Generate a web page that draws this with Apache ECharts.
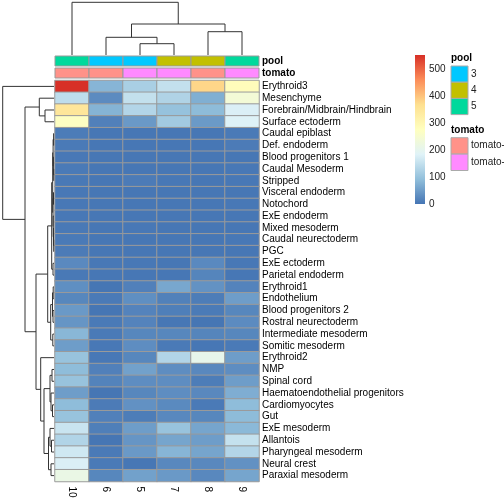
<!DOCTYPE html>
<html><head><meta charset="utf-8">
<script src="https://cdn.jsdelivr.net/npm/echarts@6/dist/echarts.min.js"></script>
<style>html,body{margin:0;padding:0;background:#fff}#c{width:504px;height:504px}</style>
</head><body><div id="c"></div>
<script>
const columns = ['10','6','5','7','8','9'];
const cellTypes = ['Erythroid3','Mesenchyme','Forebrain/Midbrain/Hindbrain','Surface ectoderm','Caudal epiblast','Def. endoderm','Blood progenitors 1','Caudal Mesoderm','Stripped','Visceral endoderm','Notochord','ExE endoderm','Mixed mesoderm','Caudal neurectoderm','PGC','ExE ectoderm','Parietal endoderm','Erythroid1','Endothelium','Blood progenitors 2','Rostral neurectoderm','Intermediate mesoderm','Somitic mesoderm','Erythroid2','NMP','Spinal cord','Haematoendothelial progenitors','Cardiomyocytes','Gut','ExE mesoderm','Allantois','Pharyngeal mesoderm','Neural crest','Paraxial mesoderm'];
const v10 = [553,145,350,272,9,6,4,6,5,4,4,4,5,6,8,25,5,32,22,45,40,82,50,100,90,100,50,90,100,158,130,165,178,215];
const v6  = [80,28,78,14,3,3,3,3,3,3,3,3,3,3,3,4,3,1,6,1,6,6,4,4,14,17,1,8,14,12,1,6,6,22];
const v5  = [120,150,132,45,3,3,3,3,8,3,3,3,4,3,3,4,3,14,32,18,18,22,30,22,55,30,22,35,10,50,40,45,2,55];
const v7  = [150,128,98,112,3,3,3,3,4,3,3,3,3,3,3,3,3,62,15,12,2,22,6,130,30,30,30,26,24,100,60,80,24,45];
const v8  = [380,72,88,46,3,3,3,3,3,3,3,3,3,3,3,25,20,36,10,7,1,20,3,205,24,10,24,6,22,60,50,60,24,24];
const v9  = [285,240,178,182,6,8,3,4,4,3,4,3,3,4,3,4,3,18,50,22,28,22,6,50,30,50,70,90,88,85,152,132,35,60];
const poolOfColumn = ['5','3','3','4','4','5'];
const tomatoOfColumn = [0,0,1,1,0,1];
const poolLevels = ['3','4','5'];
const tomatoLevels = ['tomato-','tomato-'];
const legendTicks = [0,100,200,300,400,500];
const valueMin = 0, valueMax = 553;

const colTree = {h:52.7, c:[0, {h:31, c:[{h:17.7, c:[1, {h:11.3, c:[2,3]}]}, {h:23.3, c:[4,5]}]}]};
const rowTree = {h:51.3, c:[0, {h:29, c:[
  {h:14.7, c:[1, {h:9, c:[2,3]}]},
  {h:18, c:[
    {h:6.3, c:[
      {h:2.3, c:[
        {h:1.3, c:[
          {h:0.9, c:[{h:0.4,c:[4,5]}, {h:0.6,c:[6,{h:0.3,c:[7,8]}]}]},
          {h:1.0, c:[{h:0.5,c:[9,10]}, {h:0.8,c:[11,{h:0.5,c:[12,{h:0.3,c:[13,14]}]}]}]}
        ]},
        {h:1.0, c:[15,16]}
      ]},
      {h:3.3, c:[
        {h:1.5, c:[{h:0.8,c:[17,18]},{h:1.0,c:[19,20]}]},
        {h:1.2, c:[21,22]}
      ]}
    ]},
    {h:13.3, c:[23, {h:10, c:[
      {h:4, c:[{h:2,c:[24,25]}, {h:3,c:[26,{h:1.5,c:[27,28]}]}]},
      {h:5.5, c:[{h:4,c:[29,{h:2.5,c:[30,31]}]}, {h:3,c:[32,33]}]}
    ]}]}
  ]}
]}]};

const heatColors = ['#4575B4','#91BFDB','#E0F3F8','#FFFFBF','#FEE090','#FC8D59','#D73027'];
const poolColors = {'3':'#00C8FF','4':'#C2C000','5':'#00D99C'};
const tomatoColors = ['#FF9289','#FF8AFF'];
const FONT = 'Liberation Sans, Arial, sans-serif';

const colValues = [v10, v6, v5, v7, v8, v9];
const heatData = [];
colValues.forEach((arr, ci) => arr.forEach((v, ri) => heatData.push([ci, ri, v])));

function layout(node, links){
  if (typeof node === 'number') return {pos: node + 0.5, h: 0};
  const a = layout(node.c[0], links), b = layout(node.c[1], links);
  links.push([a.pos, a.h, b.pos, b.h, node.h]);
  return {pos: (a.pos + b.pos) / 2, h: node.h};
}
const colLinks = []; layout(colTree, colLinks);
const rowLinks = []; layout(rowTree, rowLinks);

const annData = [];
columns.forEach((c, i) => { annData.push([i, 0]); annData.push([i, 1]); });

const chart = echarts.init(document.getElementById('c'), null, {renderer:'canvas'});
const grids = [
  {left:55, top:80.5, width:204, height:401},   // heatmap
  {left:55, top:55, width:204, height:24},      // annotations
  {left:55, top:2.3, width:204, height:52.7},   // col dendrogram
  {left:2.7, top:80.5, width:51.3, height:401}, // row dendrogram
  {left:415, top:55, width:10, height:149}      // colorbar
];
const hidden = {show:false};
const option = {
  animation:false,
  backgroundColor:'#fff',
  textStyle:{fontFamily:FONT},
  grid: grids,
  xAxis: [
    {type:'category', gridIndex:0, data:columns, position:'bottom', axisLine:hidden, axisTick:hidden, splitLine:hidden,
      axisLabel:{interval:0, rotate:-90, fontSize:10, color:'#000', margin:5, fontFamily:FONT}},
    {type:'category', gridIndex:1, data:columns, show:false},
    {type:'value', gridIndex:2, min:0, max:6, show:false},
    {type:'value', gridIndex:3, min:0, max:51.3, inverse:true, show:false},
    {type:'category', gridIndex:4, data:[''], show:false}
  ],
  yAxis: [
    {type:'category', gridIndex:0, data:cellTypes, inverse:true, position:'right', axisLine:hidden, axisTick:hidden, splitLine:hidden,
      axisLabel:{interval:0, fontSize:10, color:'#000', margin:3, fontFamily:FONT}},
    {type:'category', gridIndex:1, data:['pool','tomato'], inverse:true, position:'right', axisLine:hidden, axisTick:hidden,
      axisLabel:{interval:0, fontSize:10, color:'#000', margin:3, fontWeight:'bold', fontFamily:FONT}},
    {type:'value', gridIndex:2, min:0, max:52.7, show:false},
    {type:'value', gridIndex:3, min:0, max:34, inverse:true, show:false},
    {type:'value', gridIndex:4, min:valueMin, max:valueMax, interval:100, position:'right', splitLine:hidden, axisLine:hidden, axisTick:hidden,
      axisLabel:{fontSize:10, color:'#222', margin:4, fontFamily:FONT, customValues: legendTicks}}
  ],
  visualMap: [{type:'continuous', show:false, min:valueMin, max:valueMax, seriesIndex:0, dimension:2, inRange:{color:heatColors}}],
  series: [
    {type:'heatmap', xAxisIndex:0, yAxisIndex:0, data:heatData,
      itemStyle:{borderColor:'#9a9a9a', borderWidth:1}, emphasis:{disabled:true}},
    {type:'custom', xAxisIndex:1, yAxisIndex:1, data:annData,
      renderItem:function(params, api){
        const ci = api.value(0), ri = api.value(1);
        const p = api.coord([ci, ri]);
        const s = api.size([1, 1]);
        const fill = ri === 0 ? poolColors[poolOfColumn[ci]] : tomatoColors[tomatoOfColumn[ci]];
        return {type:'rect', shape:{x:p[0]-s[0]/2, y:p[1]-s[1]/2+1, width:s[0], height:s[1]-2},
          style:{fill:fill, stroke:'#9a9a9a', lineWidth:1}};
      }},
    {type:'custom', xAxisIndex:2, yAxisIndex:2, data:colLinks, encode:{x:[0,2], y:[1,3,4]},
      renderItem:function(params, api){
        const xl=api.value(0), hl=api.value(1), xr=api.value(2), hr=api.value(3), h=api.value(4);
        return {type:'polyline', shape:{points:[api.coord([xl,hl]), api.coord([xl,h]), api.coord([xr,h]), api.coord([xr,hr])]},
          style:{stroke:'#333', lineWidth:1, fill:null}};
      }},
    {type:'custom', xAxisIndex:3, yAxisIndex:3, data:rowLinks, encode:{y:[0,2], x:[1,3,4]},
      renderItem:function(params, api){
        const yl=api.value(0), hl=api.value(1), yr=api.value(2), hr=api.value(3), h=api.value(4);
        return {type:'polyline', shape:{points:[api.coord([hl,yl]), api.coord([h,yl]), api.coord([h,yr]), api.coord([hr,yr])]},
          style:{stroke:'#333', lineWidth:1, fill:null}};
      }},
    {type:'custom', xAxisIndex:4, yAxisIndex:4, data:[[0, valueMin, valueMax]], encode:{x:0, y:[1,2]},
      renderItem:function(params, api){
        const b = api.coord([0, api.value(1)]);
        const t = api.coord([0, api.value(2)]);
        const w = api.size([1, 0])[0];
        const stops = heatColors.map((c, i) => ({offset:i/(heatColors.length-1), color:c}));
        return {type:'rect', shape:{x:b[0]-w/2, y:t[1], width:w, height:b[1]-t[1]},
          style:{fill:new echarts.graphic.LinearGradient(0,1,0,0,stops)}};
      }}
  ],
  graphic: []
};

// discrete annotation legends
const g = [];
g.push({type:'text', left:451, top:53.5, style:{text:'pool', font:'bold 10px '+FONT, fill:'#000'}});
poolLevels.forEach((lv, i) => {
  g.push({type:'rect', shape:{x:451, y:66+i*16.2, width:17, height:16.2}, style:{fill:poolColors[lv], stroke:'#aaaaaa', lineWidth:1}});
  g.push({type:'text', left:471, top:66+i*16.2+3, style:{text:lv, font:'10px '+FONT, fill:'#222'}});
});
g.push({type:'text', left:451, top:125.5, style:{text:'tomato', font:'bold 10px '+FONT, fill:'#000'}});
tomatoLevels.forEach((lv, i) => {
  g.push({type:'rect', shape:{x:451, y:137.7+i*16.4, width:17, height:16.4}, style:{fill:tomatoColors[i], stroke:'#aaaaaa', lineWidth:1}});
  g.push({type:'text', left:471, top:137.7+i*16.4+3, style:{text:lv, font:'10px '+FONT, fill:'#222'}});
});
option.graphic = g;
chart.setOption(option);
</script>
</body></html>
